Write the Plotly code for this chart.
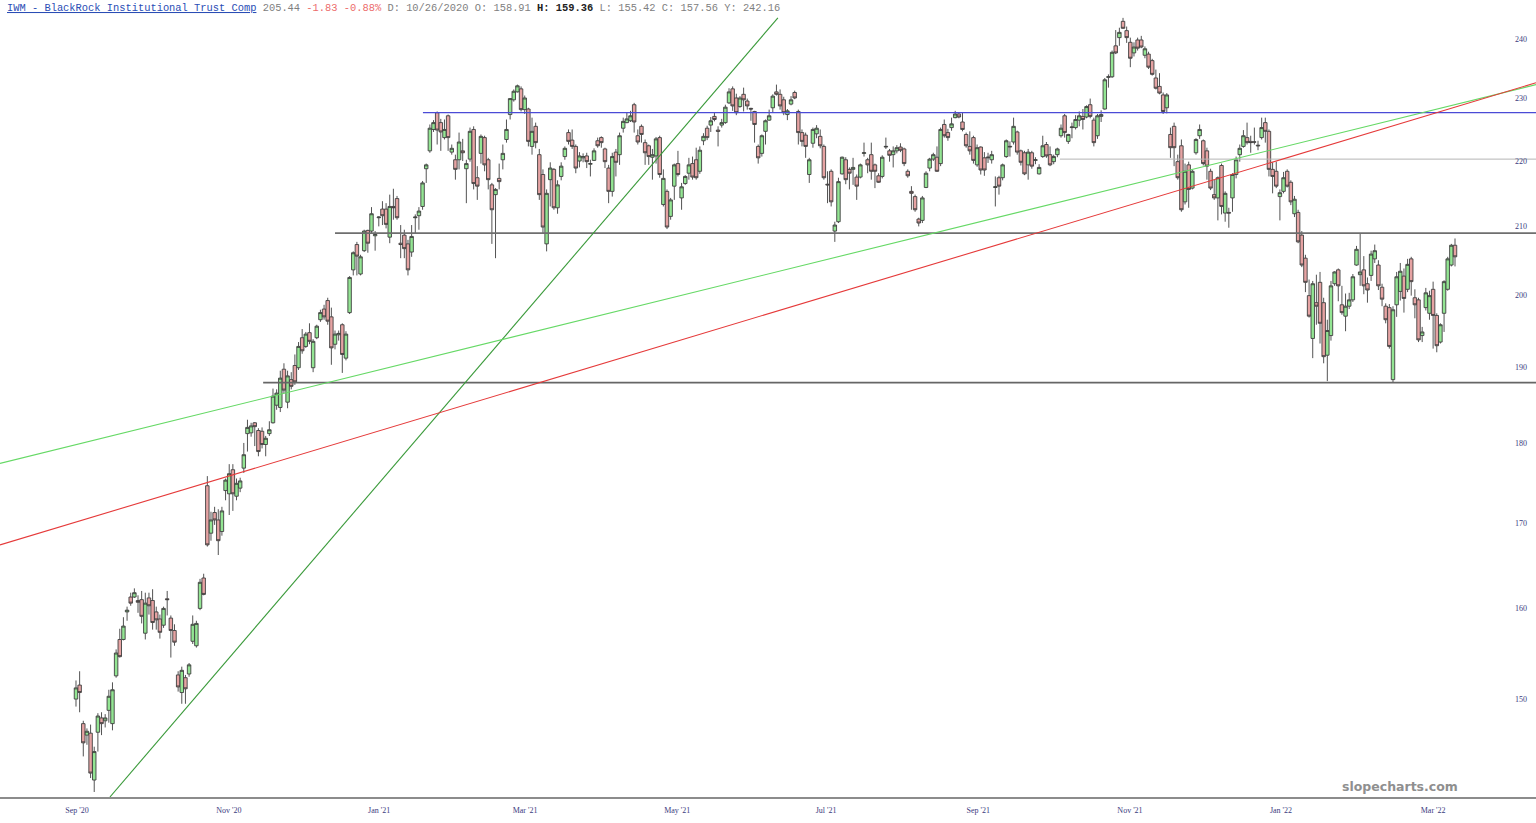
import math
import plotly.graph_objects as go

# ---------------- data ----------------
OPEN = [
150.0,151.5,147.4,146.2,146.4,141.6,146.5,148.0,147.7,148.8,
147.4,152.5,156.5,156.5,159.6,161.3,161.3,160.9,161.0,157.2,
161.2,160.9,159.6,158.8,158.1,161.1,158.9,157.5,152.6,150.7,
152.3,152.7,156.3,155.8,160.0,163.5,174.6,168.8,171.3,170.4,
169.0,174.0,173.6,176.6,173.3,174.3,176.8,181.2,181.3,182.6,
181.6,181.5,179.8,181.2,182.6,184.9,184.6,189.7,185.3,188.3,
190.2,189.9,194.0,192.8,194.7,189.9,194.0,196.5,198.0,199.2,
196.9,193.1,194.4,195.8,191.2,197.5,203.6,207.3,203.0,206.4,
209.4,209.3,208.6,211.3,212.6,212.6,208.4,213.0,214.2,207.5,
208.7,207.4,206.2,211.3,211.6,213.0,218.8,221.6,225.0,227.7,
226.1,223.7,227.2,221.4,220.2,220.2,221.6,218.8,220.3,225.0,
217.4,221.2,223.7,220.2,216.3,214.8,217.3,220.2,223.4,227.4,
229.8,231.1,231.6,228.2,228.3,222.3,225.5,221.0,217.9,207.4,
217.1,218.7,212.8,217.6,220.7,224.5,223.3,222.3,220.0,220.5,
220.8,219.5,220.1,223.2,223.7,221.9,218.9,215.3,221.4,221.0,
225.2,226.1,226.4,229.0,224.0,225.5,222.9,222.4,220.6,220.8,
223.7,213.3,215.3,211.5,216.1,219.6,214.3,216.5,218.1,219.6,
220.2,218.4,223.2,225.2,225.7,227.1,224.9,225.7,226.1,229.3,
231.6,230.1,228.7,230.7,229.6,228.4,227.9,222.3,221.2,224.7,
226.5,228.5,231.1,230.7,229.8,227.4,229.1,231.0,227.9,224.5,
224.1,217.9,222.8,224.3,223.9,222.3,216.4,218.4,209.3,210.7,
218.0,220.2,218.7,218.7,217.5,217.5,221.2,220.2,221.0,219.4,
217.7,217.6,222.2,221.6,221.0,221.6,222.2,221.9,218.4,215.3,
214.5,211.1,210.9,215.9,218.9,220.3,220.6,219.6,225.8,224.5,
225.3,226.9,227.5,226.2,224.2,222.3,223.7,219.4,222.2,220.5,
220.5,220.2,215.9,217.4,217.4,220.7,222.2,223.0,224.6,221.6,
221.3,219.4,221.3,220.1,218.0,220.7,222.6,221.0,219.9,221.0,
224.0,227.2,223.1,225.3,225.3,226.5,227.1,227.0,229.0,226.5,
224.0,227.1,228.3,233.5,233.6,238.8,240.2,243.0,241.4,239.4,
237.6,239.8,239.8,237.2,237.4,236.3,233.4,232.0,230.6,228.5,
224.2,225.5,219.9,222.4,213.7,219.4,215.8,221.3,224.0,223.2,
221.6,218.4,214.8,214.3,219.3,212.0,212.1,214.3,217.9,221.0,
222.3,223.7,223.1,223.0,222.5,223.7,226.1,224.7,218.7,218.4,
214.5,215.3,218.4,216.7,211.9,212.1,208.7,205.3,199.9,193.9,
198.9,201.8,198.9,191.6,194.3,201.6,203.6,198.6,197.0,198.4,
199.3,204.3,202.9,203.6,201.6,202.8,205.2,204.3,201.1,198.4,
198.2,188.3,198.6,200.5,202.7,200.8,205.2,199.6,199.3,194.3,
198.2,197.4,200.8,197.1,193.4,197.4,200.8,204.3,207.2,
]
HIGH = [
152.0,153.0,147.7,146.9,147.3,145.0,148.5,148.6,148.4,151.0,
151.8,155.4,157.7,159.0,160.2,161.8,162.3,161.5,162.0,161.8,
161.8,162.2,160.2,159.3,160.2,162.0,159.2,158.2,153.0,153.5,
152.6,153.9,159.2,158.6,163.4,164.0,175.8,171.4,172.0,171.7,
172.0,175.5,177.3,177.3,175.5,175.6,180.0,183.0,182.6,182.7,
181.9,182.0,180.9,182.8,187.1,187.0,189.5,190.5,189.5,189.3,
191.7,193.4,195.2,194.8,196.0,193.8,195.8,197.9,198.6,199.6,
198.2,195.0,195.0,196.0,194.9,202.7,206.3,207.7,205.8,209.5,
209.5,212.9,209.3,211.5,213.8,213.5,214.8,215.7,214.6,210.2,
209.5,208.0,210.2,211.8,212.9,216.9,219.6,225.8,226.5,227.9,
226.7,226.6,227.4,222.6,221.0,224.5,223.5,220.2,225.3,225.5,
219.2,224.2,224.0,220.5,216.6,215.8,219.6,222.6,226.6,230.1,
231.5,232.3,232.0,230.5,228.5,226.9,226.1,221.9,218.7,215.6,
219.8,218.9,217.0,219.8,222.3,225.0,225.0,222.6,221.4,221.2,
221.3,220.2,222.0,223.7,223.9,222.1,219.4,221.3,221.9,224.5,
226.9,227.7,228.0,229.3,225.0,225.8,223.4,222.6,221.9,223.8,
224.0,218.7,215.6,214.3,219.6,221.6,216.6,217.8,220.5,220.7,
222.1,222.3,224.4,225.6,227.0,227.7,225.5,226.7,229.0,231.7,
232.0,230.8,230.4,231.8,230.0,228.5,228.0,222.6,224.2,226.6,
228.2,230.7,232.3,231.5,230.3,228.3,230.4,231.3,228.2,225.0,
224.5,220.5,225.3,225.7,225.0,222.6,218.4,218.7,210.7,217.4,
220.7,220.6,219.0,220.5,217.9,219.6,222.9,220.5,222.9,219.6,
218.1,220.9,223.7,221.9,222.3,222.5,222.8,222.1,218.7,216.1,
214.8,211.3,214.6,218.4,220.5,221.3,222.3,225.3,226.6,225.1,
226.9,228.0,227.8,227.7,224.5,224.7,224.0,222.6,222.3,221.4,
221.3,221.6,217.6,217.7,219.6,223.4,223.1,226.9,224.8,221.8,
221.6,221.9,221.6,220.6,219.5,224.0,223.0,222.3,221.0,222.1,
225.8,227.5,224.3,226.1,227.3,227.9,228.3,228.9,230.0,226.9,
227.5,228.1,233.4,234.0,238.0,241.5,241.9,243.6,242.1,240.2,
239.4,240.2,240.5,238.7,237.8,236.6,234.8,234.2,231.0,230.9,
225.3,226.1,221.0,223.4,219.6,219.9,218.6,223.6,225.8,223.4,
222.1,218.8,217.1,217.6,219.6,215.3,212.8,218.1,220.7,222.6,
224.9,226.1,224.0,225.3,223.2,226.9,226.9,225.0,219.8,219.9,
215.6,218.3,218.7,217.0,214.6,212.5,209.3,205.8,202.2,202.0,
202.9,203.3,199.6,196.5,202.0,203.4,203.8,201.3,200.2,200.3,
203.0,207.1,209.0,205.6,202.5,206.4,207.3,205.0,201.6,198.8,
198.7,198.4,203.3,204.6,203.8,205.2,205.5,200.8,199.6,195.5,
201.0,200.6,201.9,197.4,196.0,202.1,205.5,207.4,208.2,
]
LOW = [
149.2,148.6,144.0,145.2,141.8,140.4,144.5,146.2,147.0,147.5,
146.7,152.3,154.5,156.4,158.6,160.3,161.2,159.5,158.3,156.5,
159.3,157.6,157.6,156.6,157.8,159.2,154.5,155.8,150.8,149.5,
149.5,152.4,156.0,155.6,159.8,161.5,167.2,167.9,169.8,166.2,
168.5,172.8,171.0,171.5,172.8,173.8,176.2,178.9,180.8,179.6,
178.3,179.3,178.3,180.9,182.5,184.3,184.0,186.5,184.5,187.0,
187.6,189.6,191.8,192.6,193.1,189.3,193.8,196.2,196.5,195.8,
190.3,192.4,193.6,189.2,190.9,197.3,202.8,202.8,202.8,206.2,
206.1,209.0,206.4,210.0,210.2,209.7,207.5,211.0,211.0,205.3,
205.3,202.8,205.5,209.0,209.5,212.5,216.6,221.3,224.6,222.6,
221.6,223.4,221.6,221.0,217.1,218.7,220.0,213.5,219.9,215.6,
214.0,219.6,218.4,215.6,207.4,205.3,215.6,218.7,222.9,226.6,
229.5,231.0,227.9,227.5,222.3,221.0,222.0,214.0,209.0,206.3,
213.0,212.5,211.9,217.0,220.2,222.6,221.9,218.1,219.0,219.8,
218.9,217.6,220.0,222.1,222.1,218.9,213.5,214.5,217.6,219.4,
224.5,226.0,226.2,224.5,222.6,222.9,219.4,219.4,217.1,219.6,
217.4,213.0,209.6,211.0,214.0,217.6,212.5,216.3,217.1,217.1,
217.1,218.0,222.5,223.3,224.6,226.3,222.3,225.3,225.9,229.1,
228.0,227.3,228.5,227.9,228.2,226.4,222.9,219.6,220.7,222.6,
226.4,227.7,230.5,228.2,227.3,226.5,228.9,229.9,222.6,222.3,
220.5,216.6,222.1,223.6,222.0,217.1,213.5,213.0,207.7,210.5,
217.9,216.4,215.6,216.3,214.0,217.3,220.7,218.1,217.1,215.8,
216.6,217.3,221.9,219.9,219.0,221.2,221.4,219.2,217.4,212.5,
212.2,210.0,210.5,215.8,218.4,220.0,218.3,219.2,223.7,223.2,
224.8,226.8,226.8,224.7,222.1,221.0,219.6,219.1,217.9,217.7,
219.7,219.6,213.0,214.8,217.0,220.5,220.7,222.6,221.0,219.3,
217.8,217.1,218.8,219.5,217.9,220.5,220.5,219.2,219.5,220.6,
223.7,223.7,222.7,223.6,225.0,225.5,225.0,226.8,226.8,222.3,
223.5,226.2,228.2,231.8,233.4,237.4,238.8,241.7,239.3,235.2,
237.0,238.0,238.4,236.7,234.9,233.8,231.5,230.7,227.5,227.6,
220.5,219.2,217.1,212.2,213.3,212.8,215.6,221.0,223.5,219.3,
217.1,215.5,214.0,210.9,211.8,210.7,209.8,212.2,217.3,219.9,
222.1,222.6,221.3,222.6,221.7,223.4,222.9,217.6,215.0,215.8,
210.9,215.0,215.9,213.2,211.4,207.5,204.0,200.4,196.8,191.2,
195.8,193.2,190.5,188.1,193.6,201.3,199.1,197.2,194.9,198.0,
199.0,204.2,201.3,200.1,198.9,202.0,204.6,200.7,198.4,196.0,
192.5,187.9,196.9,199.2,197.5,200.4,199.9,196.7,193.4,193.4,
197.8,196.5,192.5,192.0,193.2,194.8,200.6,204.1,204.1,
]
CLOSE = [
151.2,150.7,145.4,146.6,142.3,144.5,148.2,147.4,148.0,150.3,
151.0,155.0,154.6,158.0,159.8,160.6,161.8,160.7,159.1,160.6,
160.3,158.4,158.7,157.3,160.0,161.0,157.5,156.2,151.3,153.1,
151.1,153.7,158.2,158.3,163.0,161.6,167.4,170.4,170.4,167.9,
171.5,175.3,176.1,173.6,174.9,175.2,178.5,182.0,182.2,182.1,
178.9,179.8,180.6,181.7,186.1,186.5,188.5,186.9,188.8,187.4,
188.0,192.8,192.2,194.5,193.5,193.5,195.6,197.5,196.9,196.3,
192.6,194.5,194.6,191.7,194.5,202.5,206.1,205.6,205.5,209.3,
207.5,211.9,208.8,211.4,211.6,210.3,213.0,212.8,211.3,207.3,
206.7,203.6,208.5,211.4,212.3,216.6,219.4,225.2,226.1,224.9,
224.6,225.0,223.7,222.0,218.7,223.0,221.3,219.6,224.7,216.5,
216.1,223.9,219.4,217.1,212.5,215.6,216.8,221.2,225.0,230.0,
231.2,232.1,228.2,230.1,223.1,224.7,222.9,214.8,209.9,215.0,
218.9,212.8,216.3,219.2,222.0,223.1,222.3,218.9,220.8,220.7,
219.9,219.6,221.6,222.4,222.9,219.9,215.3,220.7,219.8,224.0,
226.3,226.7,227.2,226.2,223.0,224.2,221.3,220.7,221.0,223.5,
217.9,217.3,209.9,214.0,219.4,217.9,216.0,217.6,219.4,217.5,
217.4,221.7,223.9,223.7,226.4,226.6,224.7,226.1,228.6,231.1,
228.8,227.7,230.1,229.8,228.8,228.3,225.8,220.5,224.0,226.4,
227.2,230.4,230.7,228.8,227.7,228.0,229.8,230.1,224.5,223.1,
222.3,220.2,225.0,225.2,222.4,217.4,216.3,213.7,210.2,216.8,
220.6,217.1,218.1,219.0,216.1,219.4,221.3,219.4,218.4,218.4,
216.7,220.6,222.3,220.9,221.6,222.1,221.7,219.6,217.7,215.0,
212.5,210.5,214.3,218.1,220.3,221.0,218.4,225.0,224.0,223.7,
225.9,227.5,227.0,225.0,222.4,221.6,220.1,222.1,218.6,218.6,
220.6,221.0,216.0,216.1,219.4,223.2,222.3,225.5,221.4,219.8,
218.0,221.4,219.2,220.2,219.0,222.4,220.8,219.4,220.7,221.9,
225.2,224.5,224.2,225.4,226.6,227.2,226.6,228.7,227.1,222.9,
227.2,227.4,233.1,233.6,237.7,237.6,241.1,241.8,240.2,236.7,
238.6,238.4,238.6,238.3,235.2,234.0,231.7,230.9,227.9,230.6,
222.1,222.1,217.4,212.5,218.4,215.6,218.4,223.4,225.0,219.6,
219.2,215.8,214.3,217.4,213.0,215.0,212.0,217.9,220.2,222.0,
224.0,222.9,222.9,223.0,222.4,225.3,224.7,218.7,217.6,216.1,
215.1,217.4,216.1,213.7,214.1,207.7,204.3,201.8,197.0,201.6,
198.4,196.0,191.4,195.0,201.3,203.3,201.3,197.5,198.4,199.3,
202.6,206.6,203.3,201.3,200.7,205.9,206.4,201.3,199.4,196.5,
192.8,197.9,202.6,203.4,199.5,204.4,201.9,198.6,193.7,194.8,
200.3,199.9,197.1,192.9,195.8,201.9,205.2,207.2,205.5,
]
X = list(range(len(OPEN)))

TICK_POS = [0.3, 41.9, 83.1, 123.1, 164.8, 205.6, 247.3, 288.9, 330.3, 372.0]
TICK_TEXT = ["Sep '20", "Nov '20", "Jan '21", "Mar '21", "May '21",
             "Jul '21", "Sep '21", "Nov '21", "Jan '22", "Mar '22"]
PRICE_TICKS = [150, 160, 170, 180, 190, 200, 210, 220, 230, 240]

X_RANGE = [-20.83, 400.2]
Y_RANGE = [139.9, 244.1]

# horizontal levels: price, starting candle position
LEVEL_PRICE = [227.7, 209.0, 187.9, 220.3]
LEVEL_START = [95.1, 71.0, 51.3, 269.7]
LEVEL_COLOR = ["#4b4bd6", "#6e6e6e", "#666666", "#b4b4b4"]
LEVEL_WIDTH = [1.2, 1.6, 1.6, 1.0]

# trend lines: two anchor points each (candle position, price)
TREND_X = [[9.3, 192.4], [-20.83, 400.2], [-20.83, 400.2]]
TREND_P = [[139.9, 243.6], [177.4, 232.3], [167.4, 232.6]]
TREND_COLOR = ["#3a9a3a", "#66d966", "#e53a3a"]

# ---------------- figure ----------------
fig = go.Figure()
fig.add_trace(go.Candlestick(
    x=X, open=OPEN, high=HIGH, low=LOW, close=CLOSE,
    increasing=dict(fillcolor="#93e593", line=dict(color="#404040", width=0.9)),
    decreasing=dict(fillcolor="#e6a3a3", line=dict(color="#404040", width=0.9)),
    whiskerwidth=0, hoverinfo="skip", showlegend=False,
))

for p, s, c, w in zip(LEVEL_PRICE, LEVEL_START, LEVEL_COLOR, LEVEL_WIDTH):
    fig.add_trace(go.Scatter(x=[s, X_RANGE[1]], y=[p, p], mode="lines",
                             line=dict(color=c, width=w), hoverinfo="skip",
                             showlegend=False))

for xs, ps, c in zip(TREND_X, TREND_P, TREND_COLOR):
    fig.add_trace(go.Scatter(x=xs, y=ps, mode="lines",
                             line=dict(color=c, width=1.1), hoverinfo="skip",
                             showlegend=False))

axis_font = dict(family="Liberation Serif, Times New Roman, serif", size=8, color="#3b3b80")

fig.update_layout(
    width=1536, height=823,
    margin=dict(l=0, r=0, t=15, b=26),
    paper_bgcolor="white", plot_bgcolor="white",
    showlegend=False, boxgap=0.05, boxgroupgap=0,
    xaxis=dict(range=X_RANGE, showgrid=False, zeroline=False,
               showline=True, linecolor="#8c8c8c", linewidth=2,
               tickmode="array", tickvals=TICK_POS, ticktext=TICK_TEXT,
               tickfont=axis_font, ticks="", ticklabelstandoff=4,
               rangeslider=dict(visible=False), fixedrange=True),
    yaxis=dict(type="log", range=[math.log10(Y_RANGE[0]), math.log10(Y_RANGE[1])],
               side="right", showgrid=False, zeroline=False, showline=False,
               tickmode="array", tickvals=PRICE_TICKS,
               ticktext=[str(v) for v in PRICE_TICKS],
               ticklabelposition="inside", ticks="", ticklabelstandoff=6,
               tickfont=axis_font, fixedrange=True),
)

header = ("<span style='color:#2a4db5'><u>IWM - BlackRock Institutional Trust Comp</u></span> "
          "<span style='color:#808080'>205.44</span> "
          "<span style='color:#ec6b6b'>-1.83 -0.88%</span> "
          "<span style='color:#808080'>D: 10/26/2020 O: 158.91</span> "
          "<b><span style='color:#222222'>H: 159.36</span></b> "
          "<span style='color:#808080'>L: 155.42 C: 157.56 Y: 242.16</span>")
fig.add_annotation(text=header, xref="paper", yref="paper", x=0, y=1,
                   xanchor="left", yanchor="bottom", xshift=5, yshift=-1,
                   showarrow=False,
                   font=dict(family="Liberation Mono, Courier New, monospace", size=10.4))

fig.add_annotation(text="<b>slopecharts.com</b>", xref="paper", yref="paper",
                   x=1400 / 1536, y=0.014, xanchor="center", yanchor="middle",
                   showarrow=False,
                   font=dict(family="DejaVu Sans, Verdana, sans-serif", size=12.5, color="#8f8f8f"))

fig.write_html("out.html", config={"displayModeBar": False},
               post_script="document.body.style.margin='0';document.body.style.overflow='hidden';")
